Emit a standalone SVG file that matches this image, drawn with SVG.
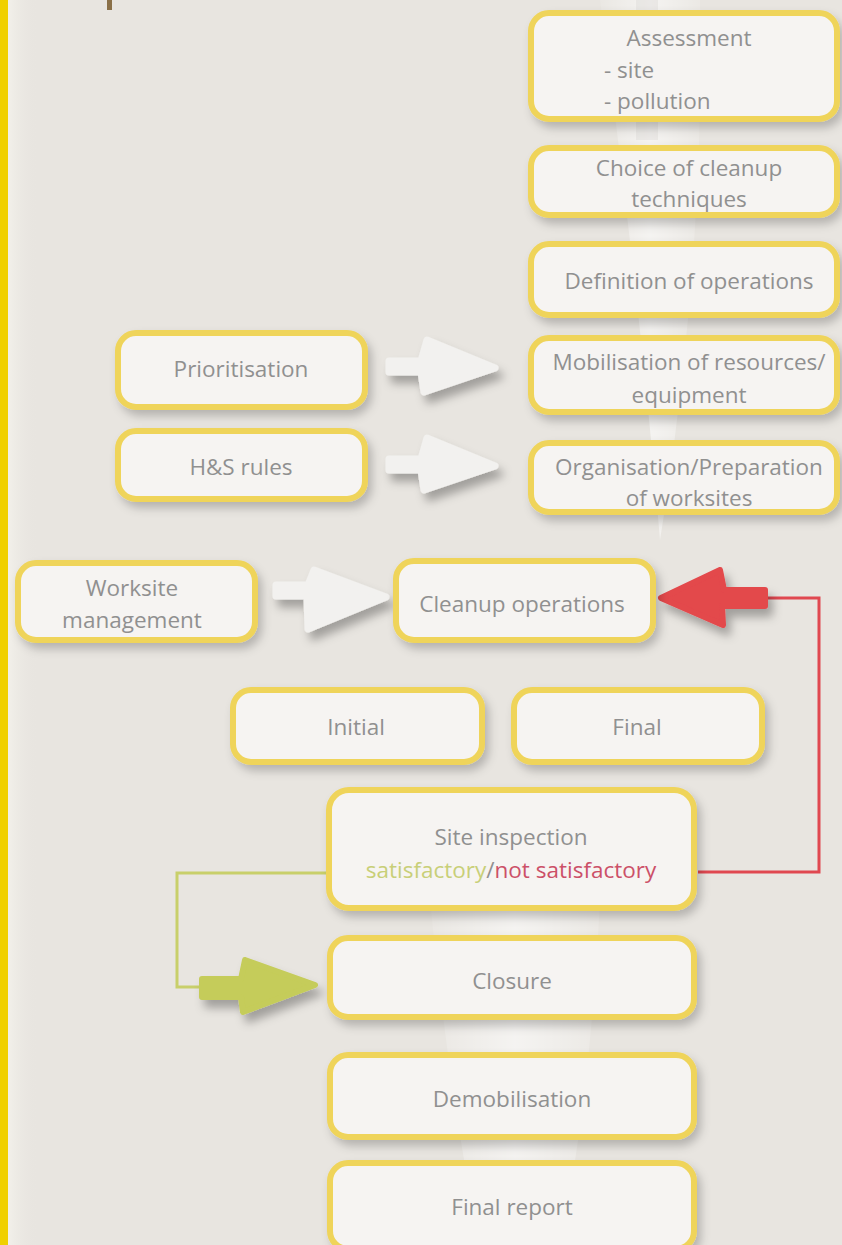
<svg xmlns="http://www.w3.org/2000/svg" width="842" height="1245" viewBox="0 0 842 1245">
<defs>
<filter id="sh" x="-20%" y="-20%" width="150%" height="160%">
<feDropShadow dx="4" dy="6" stdDeviation="5" flood-color="#000" flood-opacity="0.22"/>
</filter>
<filter id="ash" x="-30%" y="-30%" width="170%" height="190%">
<feDropShadow dx="5" dy="8" stdDeviation="5" flood-color="#000" flood-opacity="0.3"/>
</filter>
<linearGradient id="lb" x1="0" x2="1" y1="0" y2="0">
<stop offset="0" stop-color="#f2f0ea"/>
<stop offset="1" stop-color="#e8e5e0" stop-opacity="0"/>
</linearGradient>
<linearGradient id="drop" x1="0" x2="1" y1="0" y2="0">
<stop offset="0" stop-color="#fff" stop-opacity="0.1"/>
<stop offset="0.5" stop-color="#fff" stop-opacity="0.55"/>
<stop offset="1" stop-color="#fff" stop-opacity="0.15"/>
</linearGradient>
</defs>
<style>
.box{fill:#f6f4f2;stroke:#efd45a;stroke-width:6;filter:url(#sh)}
.t{font-family:"Open Sans","Liberation Sans",sans-serif;font-size:22.5px;fill:#909090;text-anchor:middle}
.ts{font-family:"Open Sans","Liberation Sans",sans-serif;font-size:22.5px;fill:#909090;text-anchor:start}
.ga{fill:#f2f1ef;stroke:#f2f1ef;stroke-width:7;stroke-linejoin:round;filter:url(#ash)}
</style>
<rect width="842" height="1245" fill="#e8e5e0"/>
<rect x="8" y="0" width="30" height="1245" fill="url(#lb)"/>
<rect x="0" y="0" width="8" height="1245" fill="#f0d000"/>
<rect x="107" y="0" width="5" height="10" fill="#8a7048"/>
<path d="M600 0 L700 0 Q705 260 660 540 Q640 300 600 0 Z" fill="url(#drop)"/>
<rect x="636" y="0" width="22" height="140" fill="#d8d5d0" opacity="0.35"/>
<path d="M430 900 Q520 860 600 900 Q590 1100 560 1245 L480 1245 Q450 1100 430 900 Z" fill="url(#drop)"/>

<g id="connectors">
<polyline points="767,598 819,598 819,872 698,872" fill="none" stroke="#e04850" stroke-width="3"/>
<polyline points="327,873 177,873 177,987 205,987" fill="none" stroke="#c8cf6a" stroke-width="3"/>
<g class="ga">
<path d="M389 361 L421 361 L427 340 L495 368 L424 392 L421 372 L389 372 Z"/>
<path d="M389 459 L421 459 L427 438 L495 466 L424 490 L421 470 L389 470 Z"/>
<path d="M276 585 L308 585 L314 570 L386 597 L308 629 L307 596 L276 596 Z"/>
</g>
<path d="M765 590 L724 590 L720 570 L661 598 L723 625 L722 606 L765 606 Z" fill="#e3484c" stroke="#e3484c" stroke-width="6" stroke-linejoin="round" filter="url(#ash)"/>
<path d="M202 979 L241 979 L245 960 L315 985 L243 1012 L241 997 L202 997 Z" fill="#c5cc5a" stroke="#c5cc5a" stroke-width="6" stroke-linejoin="round" filter="url(#ash)"/>
</g>

<g id="assessment"><rect class="box" x="531" y="13" width="306" height="106" rx="18"/>
<text class="t" x="689" y="46">Assessment</text>
<text class="ts" x="604" y="78">- site</text>
<text class="ts" x="604" y="109">- pollution</text></g>
<g id="choice"><rect class="box" x="531" y="148" width="306" height="67" rx="18"/>
<text class="t" x="689" y="176">Choice of cleanup</text>
<text class="t" x="689" y="207">techniques</text></g>
<g id="definition"><rect class="box" x="531" y="244" width="306" height="71" rx="18"/>
<text class="t" x="689" y="289">Definition of operations</text></g>
<g id="mobilisation"><rect class="box" x="531" y="338" width="306" height="74" rx="18"/>
<text class="t" x="689" y="370">Mobilisation of resources/</text>
<text class="t" x="689" y="403">equipment</text></g>
<g id="organisation"><rect class="box" x="531" y="443" width="306" height="69" rx="18"/>
<text class="t" x="689" y="475">Organisation/Preparation</text>
<text class="t" x="689" y="506">of worksites</text></g>
<g id="prioritisation"><rect class="box" x="118" y="333" width="247" height="74" rx="18"/>
<text class="t" x="241" y="377">Prioritisation</text></g>
<g id="hs"><rect class="box" x="118" y="431" width="247" height="68" rx="18"/>
<text class="t" x="241" y="475">H&amp;S rules</text></g>
<g id="worksite"><rect class="box" x="18" y="563" width="237" height="77" rx="18"/>
<text class="t" x="132" y="596">Worksite</text>
<text class="t" x="132" y="628">management</text></g>
<g id="cleanup"><rect class="box" x="396" y="561" width="257" height="79" rx="18"/>
<text class="t" x="522" y="612">Cleanup operations</text></g>
<g id="initial"><rect class="box" x="233" y="690" width="249" height="72" rx="18"/>
<text class="t" x="356" y="735">Initial</text></g>
<g id="final"><rect class="box" x="514" y="690" width="248" height="72" rx="18"/>
<text class="t" x="637" y="735">Final</text></g>
<g id="inspection"><rect class="box" x="329" y="790" width="365" height="118" rx="20"/>
<text class="t" x="511" y="845">Site inspection</text>
<text class="t" x="511" y="878"><tspan fill="#c8cf78">satisfactory</tspan><tspan fill="#909090">/</tspan><tspan fill="#cc5068">not satisfactory</tspan></text></g>
<g id="closure"><rect class="box" x="330" y="938" width="364" height="79" rx="18"/>
<text class="t" x="512" y="989">Closure</text></g>
<g id="demobilisation"><rect class="box" x="330" y="1055" width="364" height="82" rx="18"/>
<text class="t" x="512" y="1107">Demobilisation</text></g>
<g id="finalreport"><rect class="box" x="330" y="1163" width="364" height="86" rx="18"/>
<text class="t" x="512" y="1215">Final report</text></g>
</svg>
